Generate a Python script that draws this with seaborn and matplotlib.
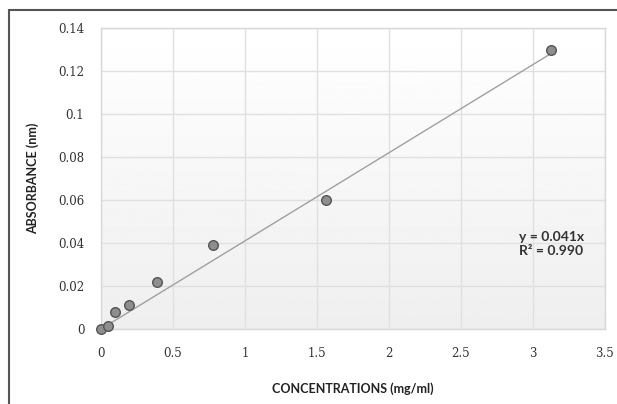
import numpy as np
import pandas as pd
import seaborn as sns
import matplotlib.pyplot as plt
from matplotlib.lines import Line2D

# data
conc = [0.0, 0.049, 0.098, 0.195, 0.39, 0.78, 1.56, 3.125]
absorb = [0.0, 0.0015, 0.0078, 0.011, 0.022, 0.039, 0.060, 0.130]
slope = 0.041
fit_x = [0.0, 3.125]
x_ticks = [0, 0.5, 1, 1.5, 2, 2.5, 3, 3.5]
y_ticks = [0, 0.02, 0.04, 0.06, 0.08, 0.1, 0.12, 0.14]

df = pd.DataFrame({"conc": conc, "abs": absorb})
fit = pd.DataFrame({"conc": fit_x, "abs": [slope * v for v in fit_x]})

sns.set_style("white")

fig = plt.figure(figsize=(6.17, 4.04), dpi=100)
ax = fig.add_axes([101 / 617, 75 / 404, 504 / 617, 301 / 404])

# gradient plot area (white at top -> light grey at bottom)
grad = np.linspace(0.935, 1.0, 256).reshape(-1, 1)
ax.imshow(grad, extent=[0, 1, 0, 1], transform=ax.transAxes, aspect="auto",
          cmap="gray", vmin=0, vmax=1, origin="lower", zorder=-1)

sns.lineplot(data=fit, x="conc", y="abs", ax=ax, color="#a0a0a0", lw=1.0, zorder=2)
sns.scatterplot(data=df, x="conc", y="abs", ax=ax, s=48, color="#8e8e8e",
                edgecolor="#555555", linewidth=1.0, zorder=3, clip_on=False)

ax.set_xlim(0, 3.5)
ax.set_ylim(0, 0.14)
ax.set_xticks(x_ticks)
ax.set_yticks(y_ticks)
ax.set_xticklabels([f"{v:g}" for v in x_ticks], family="DejaVu Serif", fontsize=8.5, color="#333333")
ax.set_yticklabels([f"{v:g}" for v in y_ticks], family="DejaVu Serif", fontsize=8.5, color="#333333")
ax.tick_params(length=0)
ax.tick_params(axis="x", pad=13)
ax.tick_params(axis="y", pad=12)
ax.grid(True, color="#e0e0e0", lw=1.0)
ax.set_axisbelow(True)
for sp in ax.spines.values():
    sp.set_color("#d8d8d8")
    sp.set_linewidth(1.0)

ax.set_xlabel("CONCENTRATIONS (mg/ml)", family="Lato", fontweight="bold",
              fontsize=9, color="#222222", labelpad=16)
ax.set_ylabel("ABSORBANCE (nm)", family="Lato", fontweight="bold",
              fontsize=9, color="#222222", labelpad=14)

ax.text(2.905, 0.0395, "y = 0.041x\nR² = 0.990", family="Lato", fontweight="bold",
        fontsize=10, color="#333333", linespacing=1.2, va="center", ha="left")

# outer chart frame (top and left visible)
fig.add_artist(Line2D([9 / 617, 1], [1 - 10 / 404, 1 - 10 / 404], color="#555555", lw=1.5))
fig.add_artist(Line2D([9 / 617, 9 / 617], [0, 1 - 10 / 404], color="#555555", lw=1.5))

fig.savefig("out.png", dpi=100)
